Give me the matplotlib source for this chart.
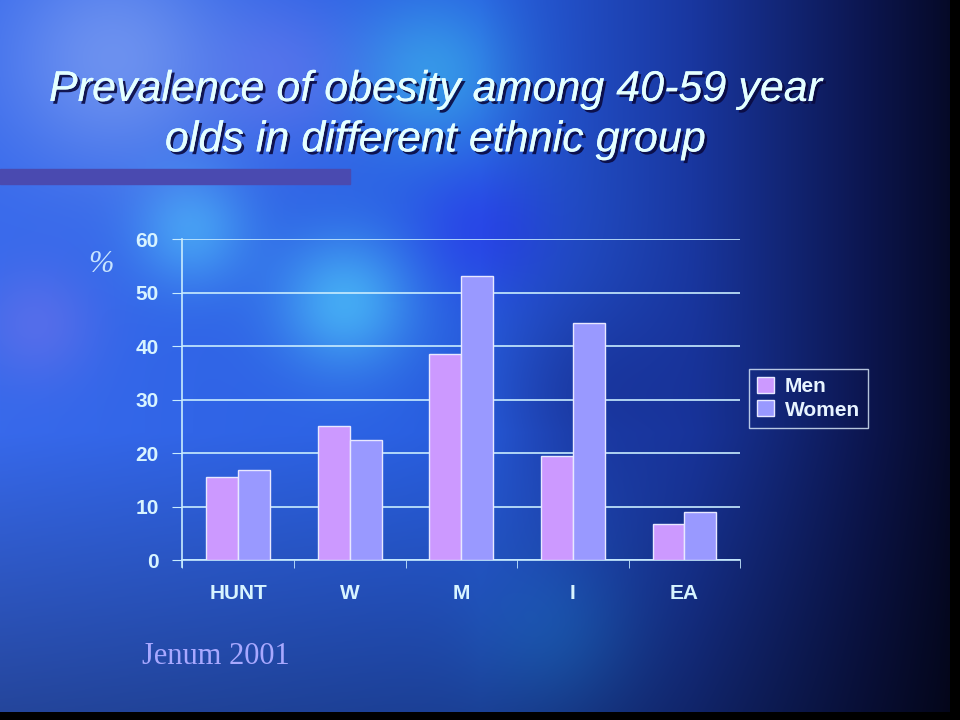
import matplotlib
matplotlib.use("Agg")
import matplotlib.pyplot as plt
import matplotlib.patheffects as pe
import numpy as np

# data
groups = ["HUNT", "W", "M", "I", "EA"]
men = [15.5, 25.0, 38.5, 19.4, 6.7]
women = [16.8, 22.4, 53.1, 44.3, 9.0]
yticks = [0, 10, 20, 30, 40, 50, 60]

fig = plt.figure(figsize=(9.6, 7.2), dpi=100)

# slide background: blue glow on the left fading to navy/black on the right
h, w = 720, 960
yy, xx = np.mgrid[0:h, 0:w] / np.array([h, w])[:, None, None]
xp = [0.0, 0.5, 0.72, 0.9, 1.0]
r = np.interp(xx, xp, [55, 40, 25, 12, 5])
g = np.interp(xx, xp, [105, 95, 55, 22, 8])
b = np.interp(xx, xp, [235, 225, 160, 80, 35])
dark = np.clip((yy - 0.6) / 0.4, 0, 1) * 0.35
r, g, b = r * (1 - dark), g * (1 - dark), b * (1 - dark)
def blob(cx, cy, s, col, k=1.0):
    wgt = k * np.exp(-(((xx - cx) / s) ** 2 + ((yy - cy) / (s * 1.3)) ** 2))
    return [wgt * c for c in col]
for cx, cy, s, col, k in [(0.36, 0.42, 0.07, (30, 90, 20), 0.8),
                          (0.2, 0.32, 0.06, (30, 90, 20), 0.6),
                          (0.12, 0.08, 0.12, (80, 60, 10), 0.7),
                          (0.45, 0.1, 0.08, (20, 90, 10), 0.6),
                          (0.3, 0.1, 0.08, (60, 20, 10), 0.5),
                          (0.04, 0.45, 0.06, (60, 10, 0), 0.5),
                          (0.5, 0.32, 0.07, (0, -40, 10), 0.6),
                          (0.6, 0.55, 0.1, (-10, -30, -50), 0.6),
                          (0.58, 0.88, 0.08, (0, 50, 40), 0.4)]:
    dr, dg, db = blob(cx, cy, s, col, k)
    r, g, b = r + dr, g + dg, b + db
bg = np.clip(np.dstack([r, g, b]) / 255, 0, 1)
bg[:, 950:] = 0.0
bg[712:, :] = 0.0
bax = fig.add_axes([0, 0, 1, 1])
bax.imshow(bg, aspect="auto", extent=[0, 1, 0, 1], origin="upper")
bax.axis("off")

# title with drop shadow
shadow = [pe.withSimplePatchShadow(offset=(2, -2), shadow_rgbFace="#0a0a40", alpha=0.9), pe.Normal()]
fig.text(0.453, 0.875, "Prevalence of obesity among 40-59 year", ha="center", va="center",
         fontsize=31, style="italic", family="Liberation Sans", color="#e4ffff", path_effects=shadow)
fig.text(0.453, 0.805, "olds in different ethnic group", ha="center", va="center",
         fontsize=31, style="italic", family="Liberation Sans", color="#e4ffff", path_effects=shadow)
fig.patches.append(plt.Rectangle((0, 0.745), 0.365, 0.02, transform=fig.transFigure,
                                 color="#4a4ab0", zorder=2))

fig.text(0.105, 0.632, "%", ha="center", va="center", fontsize=22, style="italic",
         family="Liberation Serif", color="#c8e4ff")
fig.text(0.148, 0.088, "Jenum 2001", ha="left", va="center", fontsize=22,
         family="Liberation Serif", color="#a8a8ff")

ax = fig.add_axes([0.19, 0.222, 0.581, 0.446])
ax.patch.set_alpha(0)
x = np.arange(len(groups))
bw = 0.285
edge = "#e8e8ff"
ax.bar(x - bw / 2, men, bw, color="#cc99ff", edgecolor=edge, linewidth=1, label="Men", zorder=3)
ax.bar(x + bw / 2, women, bw, color="#9999ff", edgecolor=edge, linewidth=1, label="Women", zorder=3)

ax.set_xlim(-0.5, len(groups) - 0.5)
ax.set_ylim(0, 60)
ax.set_yticks(yticks)
ax.yaxis.grid(True, color="#c8ecff", linewidth=1.2, zorder=0)
ax.set_axisbelow(True)
for s in ["top", "right"]:
    ax.spines[s].set_visible(False)
ax.spines["left"].set_color("#c8ecff")
ax.spines["bottom"].set_color("#c8ecff")
ax.spines["left"].set_bounds(-1.3, 60)
ax.spines["bottom"].set_linewidth(1.2)
ax.spines["left"].set_linewidth(1.2)

ax.set_xticks(x)
ax.set_xticklabels(groups)
ax.set_xticks(np.arange(-0.5, len(groups)), minor=True)
ax.tick_params(axis="x", which="major", length=0, pad=17)
ax.tick_params(axis="x", which="minor", length=6, color="#c8ecff", direction="out")
ax.tick_params(axis="y", length=7, color="#c8ecff", pad=10)
for lab in ax.get_xticklabels() + ax.get_yticklabels():
    lab.set_fontsize(15)
    lab.set_fontweight("bold")
    lab.set_color("#d8f4ff")
    lab.set_family("Liberation Sans")

leg = ax.legend(loc="upper left", bbox_to_anchor=(1.016, 0.596), frameon=True, fancybox=False,
                handlelength=0.8, handleheight=0.8, handletextpad=0.5, borderpad=0.4,
                labelspacing=0.2, borderaxespad=0.0,
                prop={"family": "Liberation Sans", "weight": "bold", "size": 15})
leg.get_frame().set_facecolor("none")
leg.get_frame().set_edgecolor("#e0f0ff")
leg.get_frame().set_linewidth(1.0)
for txt in leg.get_texts():
    txt.set_color("#e8f4ff")

fig.savefig("out.png", dpi=100)
